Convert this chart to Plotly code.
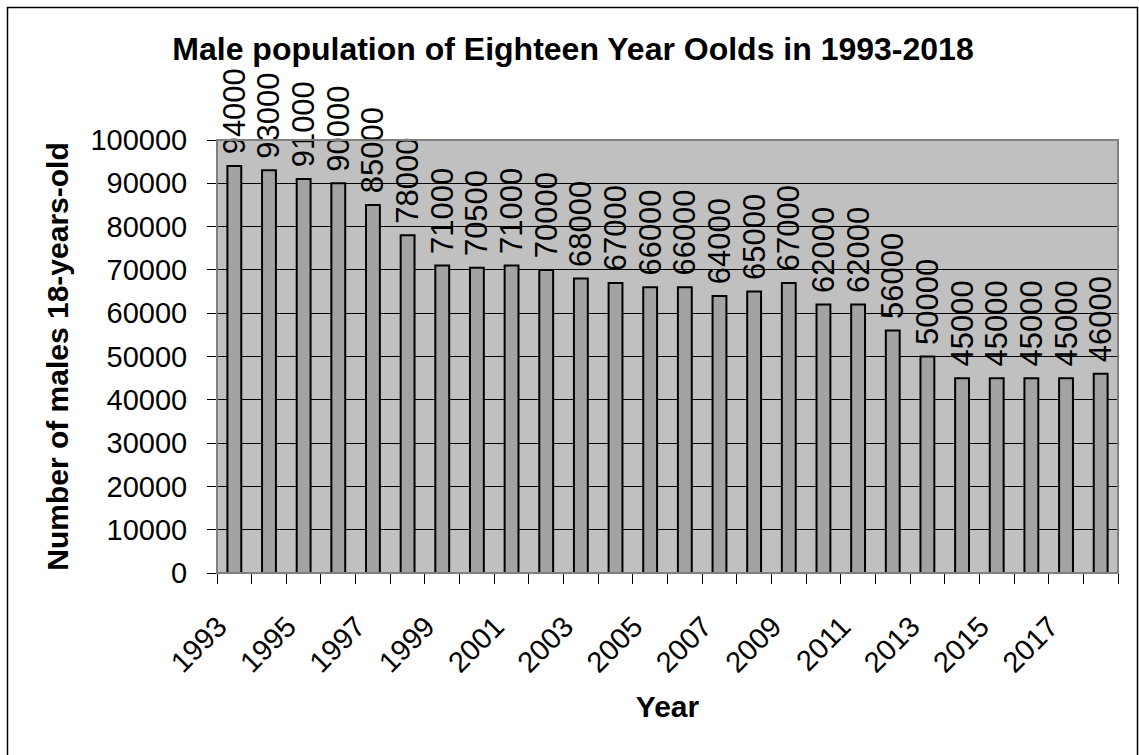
import plotly.graph_objects as go

years = list(range(1993, 2019))
males = [94000, 93000, 91000, 90000, 85000, 78000, 71000, 70500, 71000, 70000,
         68000, 67000, 66000, 66000, 64000, 65000, 67000, 62000, 62000, 56000,
         50000, 45000, 45000, 45000, 45000, 46000]
tick_years = [y for y in years if y % 2 == 1]
title_text = "Male population of Eighteen Year Oolds in 1993-2018"
x_title = "Year"
y_title = "Number of males 18-years-old"

W, H = 1139, 755
L, R, T, B = 217, 1118, 140, 573
FONT = "Arial, Liberation Sans, sans-serif"

fig = go.Figure()
fig.add_trace(go.Bar(
    x=years, y=males, width=0.4,
    marker=dict(color="#a3a3a3", line=dict(color="black", width=2)),
    text=["\u00a0" + str(v) for v in males], textposition="outside", textangle=-90,
    textfont=dict(family=FONT, size=31, color="black"),
    constraintext="none", cliponaxis=False,
))

pw, ph = R - L, B - T
fig.add_shape(type="rect", xref="paper", yref="paper",
              x0=(7.5 - L) / pw, x1=(1137.5 - L) / pw,
              y0=(B - 770) / ph, y1=(B - 7.5) / ph,
              line=dict(color="black", width=1.5), layer="below")
fig.add_shape(type="rect", xref="paper", yref="paper", x0=0, x1=1, y0=0, y1=1,
              line=dict(color="#808080", width=2), layer="above")

fig.update_layout(
    width=W, height=H,
    margin=dict(l=L, r=W - R, t=T, b=H - B),
    paper_bgcolor="white", plot_bgcolor="#c0c0c0",
    font=dict(family=FONT, color="black"),
    showlegend=False,
    title=dict(text=f"<b>{title_text}</b>", x=573 / W, xanchor="center",
               xref="container", y=1 - 49 / H, yanchor="middle", yref="container",
               font=dict(size=32, family=FONT, color="black")),
    xaxis=dict(range=[1992.5, 2018.5], tickvals=tick_years,
               ticktext=[str(y) for y in tick_years], tickangle=-45,
               ticks="", showgrid=False, zeroline=False,
               showline=True, linecolor="black", linewidth=1,
               tickfont=dict(size=29, family=FONT),
               ticklabelstandoff=24, ticklabelshift=-16,
               minor=dict(tickvals=[y - 0.5 for y in years] + [years[-1] + 0.5],
                          ticks="outside", ticklen=10, tickcolor="black",
                          showgrid=False),
               title=dict(text=f"<b>{x_title}</b>", font=dict(size=30, family=FONT),
                          standoff=18)),
    yaxis=dict(range=[0, 100000], dtick=10000, tickformat="d",
               showgrid=True, gridcolor="black", gridwidth=1, zeroline=False,
               showline=True, linecolor="black", linewidth=1,
               ticks="outside", ticklen=9, tickcolor="black",
               tickfont=dict(size=29, family=FONT), ticklabelstandoff=14,
               title=dict(text=f"<b>{y_title}</b>", font=dict(size=30, family=FONT),
                          standoff=12)),
)

fig.write_html("out.html", config={"displayModeBar": False},
               post_script="document.body.style.margin='0';")
